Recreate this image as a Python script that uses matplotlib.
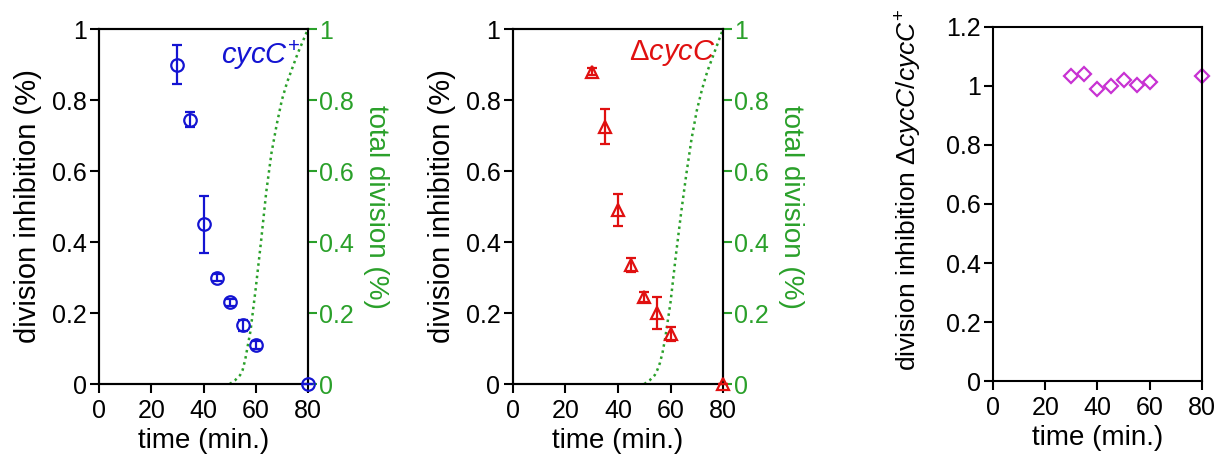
import matplotlib
matplotlib.use("Agg")
import matplotlib.pyplot as plt

plt.rcParams['font.family'] = ['Liberation Sans', 'DejaVu Sans']
plt.rcParams['mathtext.fontset'] = 'custom'
plt.rcParams['mathtext.rm'] = 'Liberation Sans'
plt.rcParams['mathtext.it'] = 'Liberation Sans:italic'
plt.rcParams['mathtext.default'] = 'regular'

# ---- data ----
time = [30, 35, 40, 45, 50, 55, 60, 80]

wt_inhib = [0.90, 0.745, 0.45, 0.30, 0.23, 0.165, 0.11, 0.0]
wt_err = [0.055, 0.02, 0.08, 0.01, 0.01, 0.015, 0.01, 0.0]

dc_inhib = [0.88, 0.725, 0.49, 0.335, 0.245, 0.20, 0.14, 0.0]
dc_err = [0.01, 0.05, 0.045, 0.02, 0.015, 0.045, 0.02, 0.0]

ratio = [1.035, 1.04, 0.99, 1.0, 1.02, 1.005, 1.015, 1.035]

div_time_wt = [50, 52, 54, 55, 56, 57, 58, 60, 62, 64, 66, 68, 70, 72, 74, 76, 78, 80]
div_frac_wt = [0.0, 0.01, 0.025, 0.04, 0.07, 0.11, 0.15, 0.27, 0.40, 0.54, 0.65, 0.73, 0.80, 0.85, 0.89, 0.93, 0.965, 1.0]

div_time_dc = [50, 52, 54, 55, 56, 57, 58, 60, 62, 64, 66, 68, 70, 72, 74, 76, 78, 80]
div_frac_dc = [0.0, 0.01, 0.025, 0.04, 0.06, 0.09, 0.13, 0.23, 0.36, 0.48, 0.59, 0.69, 0.77, 0.83, 0.88, 0.92, 0.96, 1.0]

xticks = [0, 20, 40, 60, 80]
yticks = [0, 0.2, 0.4, 0.6, 0.8, 1.0]
ytick_labels = ['0', '0.2', '0.4', '0.6', '0.8', '1']
yticks3 = [0, 0.2, 0.4, 0.6, 0.8, 1.0, 1.2]
ytick_labels3 = ['0', '0.2', '0.4', '0.6', '0.8', '1', '1.2']

BLUE = '#1414d2'
RED = '#e01010'
MAG = '#c832d2'
GREEN = '#2aa02a'

TICK_FS = 18
LAB_FS = 20

fig = plt.figure(figsize=(12.29, 4.62), dpi=100)


def style_axis(ax):
    for s in ax.spines.values():
        s.set_linewidth(1.5)
        s.set_color('black')
    ax.tick_params(direction='out', length=6.5, width=1.5, labelsize=TICK_FS)
    ax.tick_params(axis='x', pad=4)
    ax.tick_params(axis='y', pad=2.5)


def panel(rect, inhib, err, marker, color, dt, df, label):
    ax = fig.add_axes(rect)
    ax.errorbar(time, inhib, yerr=err, fmt=marker, color=color, mfc='none',
                mec=color, mew=1.6, ms=9, ecolor=color, elinewidth=1.6,
                capsize=3.8, capthick=1.6, clip_on=False, zorder=3)
    ax.set_xlim(0, 80)
    ax.set_ylim(0, 1)
    ax.set_xticks(xticks)
    ax.set_yticks(yticks)
    ax.set_yticklabels(ytick_labels)
    ax.set_xlabel('time (min.)', fontsize=LAB_FS, labelpad=4)
    ax.set_ylabel('division inhibition (%)', fontsize=21, labelpad=7)
    style_axis(ax)
    ax.text(0.965, 0.975, label, transform=ax.transAxes, ha='right', va='top',
            color=color, fontsize=21)
    ax2 = ax.twinx()
    ax2.plot(dt, df, linestyle=(0, (1, 1.5)), color=GREEN, lw=1.8, zorder=2)
    ax2.set_ylim(0, 1)
    ax2.set_xlim(0, 80)
    ax2.set_yticks(yticks)
    ax2.set_yticklabels(ytick_labels)
    style_axis(ax2)
    ax2.tick_params(axis='y', colors=GREEN, labelcolor=GREEN, pad=1.5)
    ax2.set_ylabel('total division (%)', fontsize=LAB_FS, color=GREEN,
                   rotation=270, labelpad=25)
    ax.set_zorder(ax2.get_zorder() + 1)
    ax.patch.set_visible(False)
    return ax


panel([0.0806, 0.1688, 0.170, 0.7684], wt_inhib, wt_err, 'o', BLUE,
      div_time_wt, div_frac_wt, r'$\mathit{cycC}^{+}$')
panel([0.4174, 0.1688, 0.1709, 0.7684], dc_inhib, dc_err, '^', RED,
      div_time_dc, div_frac_dc, r'$\Delta\mathit{cycC}$')

ax3 = fig.add_axes([0.808, 0.1753, 0.170, 0.7663])
ax3.plot(time, ratio, linestyle='none', marker='D', mfc='none', mec=MAG,
         mew=1.6, ms=7.5, clip_on=False)
ax3.set_xlim(0, 80)
ax3.set_ylim(0, 1.2)
ax3.set_xticks(xticks)
ax3.set_yticks(yticks3)
ax3.set_yticklabels(ytick_labels3)
ax3.set_xlabel('time (min.)', fontsize=LAB_FS, labelpad=4)
ax3.set_ylabel(r'division inhibition $\Delta\mathit{cycC}/\mathit{cycC}^{+}$',
               fontsize=19)
ax3.yaxis.set_label_coords(-0.33, 0.54)
style_axis(ax3)

fig.savefig('out.png', dpi=100)
